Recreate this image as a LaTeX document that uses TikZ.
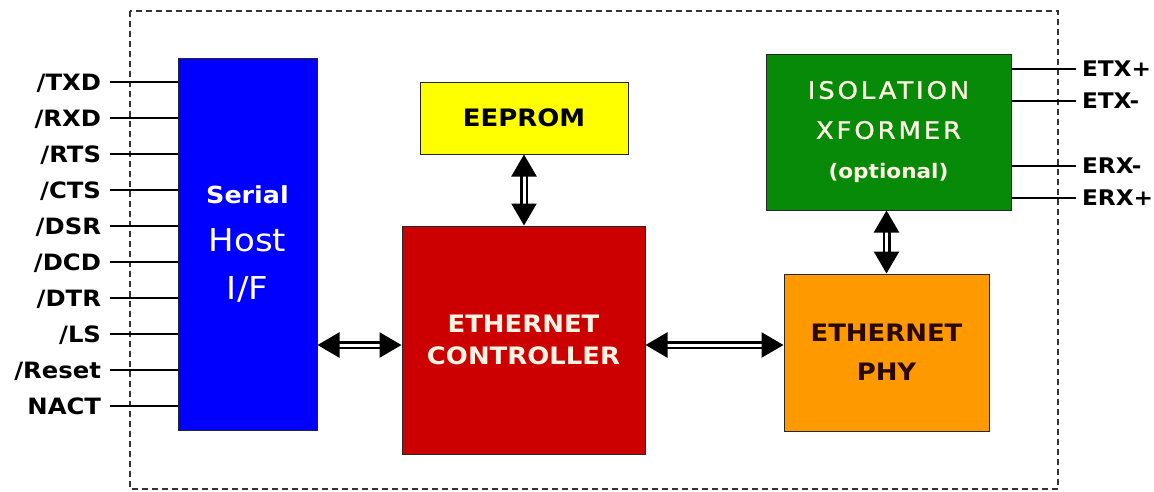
\documentclass[tikz,border=0pt]{standalone}
\usepackage{fontspec}
\setmainfont{DejaVu Sans}[FakeStretch=1.08]
\newfontfamily\spacedfont{DejaVu Sans}[FakeStretch=1.08,LetterSpace=12,FakeBold=1.2]
\usepackage{xcolor}
\usetikzlibrary{arrows.meta}

\begin{document}
\begin{tikzpicture}[x=1pt,y=-1pt,
  mybox/.style={rectangle,draw=black!85,line width=1pt,inner sep=0pt,align=center},
  mypin/.style={font=\fontsize{22.5}{22.5}\selectfont\bfseries,inner sep=0pt,text height=16pt,text depth=0pt},
  mywire/.style={line width=1.2pt},
  myframe/.style={draw=black!80,line width=1.5pt,dash pattern=on 6pt off 4pt},
  myarrow/.style={double=white,double distance=3pt,line width=2.5pt,
    {Triangle[length=22pt,width=25pt]}-{Triangle[length=22pt,width=25pt]}}]
\definecolor{hostblue}{HTML}{0000FF}
\definecolor{promyellow}{HTML}{FFFF00}
\definecolor{ctrlred}{HTML}{CC0000}
\definecolor{xfmrgreen}{HTML}{078A07}
\definecolor{phyorange}{HTML}{FF9900}
\definecolor{cream}{HTML}{FFF4E4}
\definecolor{phytext}{HTML}{2A0A00}
\useasboundingbox (0,0) rectangle (1154,491);
\draw[myframe] (130,11) rectangle (1058,489);

% blocks
\node[mybox,fill=hostblue,text=white,minimum width=139,minimum height=372,
  font=\fontsize{23.5}{48}\selectfont] (host) at (247.5,244)
  {{\bfseries Serial}\\{\fontsize{31.5}{48}\selectfont Host}\\{\fontsize{31.5}{48}\selectfont I/F}};
\node[mybox,fill=promyellow,minimum width=208,minimum height=72,
  font=\fontsize{24}{32}\selectfont\bfseries] (prom) at (524,118) {EEPROM};
\node[mybox,fill=ctrlred,text=cream,minimum width=243,minimum height=228,
  font=\fontsize{24}{32}\selectfont\bfseries] (ctrl) at (523.5,340) {ETHERNET\\CONTROLLER};
\node[mybox,fill=xfmrgreen,text=cream,minimum width=245,minimum height=156,
  font=\fontsize{24}{40}\spacedfont] (xfmr) at (888.5,132)
  {ISOLATION\\XFORMER\\{\fontsize{20}{40}\rmfamily\bfseries (optional)}};
\node[mybox,fill=phyorange,text=phytext,minimum width=205,minimum height=157,
  font=\fontsize{24}{39}\selectfont\bfseries] (phy) at (886.5,352.5) {ETHERNET\\PHY};

% links
\draw[myarrow] (host.east |- 0,345) -- (ctrl.west |- 0,345);
\draw[myarrow] (ctrl.east |- 0,345) -- (phy.west |- 0,345);
\draw[myarrow] (prom.south) -- (prom.south |- ctrl.north);
\draw[myarrow] (phy.north |- xfmr.south) -- (phy.north);

% serial pins
\foreach \sig [count=\i] in {{/TXD},{/RXD},{/RTS},{/CTS},{/DSR},{/DCD},{/DTR},{/LS},{/Reset},NACT}
  { \node[mypin,anchor=east,outer xsep=9pt] (lpin\i) at (110,46+36*\i) {\sig};
    \draw[mywire] (lpin\i.east) -- (host.west |- lpin\i.east);}
% line pins
\foreach \sig/\yy [count=\j] in {ETX+/69,ETX-/101,ERX-/166,ERX+/198}
  { \node[mypin,font=\fontsize{21.5}{21.5}\selectfont\bfseries,text height=15pt,
      anchor=west,outer xsep=6pt] (rpin\j) at (1076,\yy) {\sig};
    \draw[mywire] (xfmr.east |- rpin\j.west) -- (rpin\j.west);}
\end{tikzpicture}
\end{document}
